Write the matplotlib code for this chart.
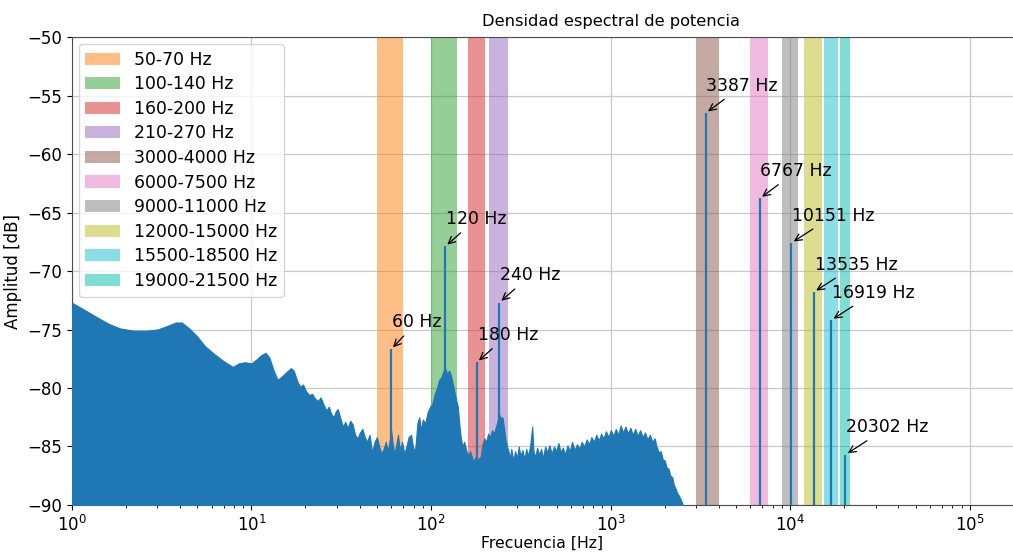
import matplotlib
matplotlib.use("Agg")
import matplotlib.pyplot as plt
from matplotlib.patches import Patch

# Power spectral density estimate (frequency in Hz, level in dB)
freq_hz = [
    1.0, 1.2, 1.4, 1.6, 1.85, 2.2, 2.6, 3.0, 3.4, 3.8, 4.1, 4.5, 5.0, 5.5, 6.1,
    7.0, 7.9, 8.5, 9.2, 10.0, 10.6, 11.3, 12.0, 12.6, 13.3, 14.0, 14.8, 15.8,
    16.6, 17.2, 18.0, 18.7, 19.4, 20.2, 21.0, 21.8, 22.6, 23.5, 24.3, 25.2,
    26.1, 27.0, 27.8, 28.7, 29.5, 30.3, 31.3, 32.3, 33.3, 34.4, 35.5, 36.6,
    37.8, 39.0, 40.2, 41.5, 42.8, 44.0, 45.5, 47.0, 48.5, 50.0, 51.5, 53.0,
    54.5, 56.0, 57.5, 59.0, 60.0, 61.0, 62.5, 64.0, 65.5, 67.0, 69.0, 71.0,
    73.0, 75.0, 77.5, 80.0, 82.0, 84.0, 86.0, 88.0, 90.0, 93.0, 96.0, 99.0,
    102, 105, 108, 111, 114, 117, 120, 123, 126, 129, 132, 135, 138, 141, 144,
    147, 150, 153, 157, 161, 165, 169, 173, 177, 181, 185, 189, 193, 198, 203,
    208, 213, 219, 224, 230, 235, 240, 246, 250, 255, 260, 265, 270, 275, 280,
    287, 294, 301, 308, 315, 323, 331, 339, 347, 356, 366, 372, 380, 390, 400,
    410, 420, 432, 444, 456, 470, 484, 498, 512, 527, 542, 558, 575, 592, 610,
    630, 650, 670, 690, 712, 735, 758, 782, 806, 832, 858, 885, 913, 942, 972,
    1003, 1035, 1068, 1102, 1137, 1173, 1210, 1248, 1288, 1329, 1371, 1415,
    1460, 1506, 1554, 1603, 1654, 1707, 1760, 1800, 1850, 1900, 1950, 2000,
    2050, 2100, 2150, 2200, 2250, 2300, 2350, 2400, 2450, 2500, 2550, 2600,
]
level_db = [
    -72.7, -73.4, -74.0, -74.5, -74.9, -75.1, -75.1, -75.0, -74.7, -74.4, -74.4,
    -74.9, -75.6, -76.4, -77.0, -77.7, -78.2, -77.9, -77.8, -77.9, -77.6, -77.2,
    -77.0, -77.4, -78.5, -79.3, -79.0, -78.6, -78.3, -78.5, -79.4, -79.9, -79.7,
    -80.3, -80.6, -80.5, -80.9, -81.1, -80.8, -81.4, -81.9, -81.6, -82.2, -82.5,
    -82.0, -81.8, -82.6, -83.3, -82.9, -83.4, -82.8, -83.1, -84.0, -84.3, -83.8,
    -83.5, -84.2, -84.6, -84.0, -85.5, -84.6, -84.2, -85.0, -85.6, -85.2, -84.6,
    -85.4, -84.4, -83.6, -84.6, -85.6, -84.9, -84.0, -85.3, -84.6, -85.6, -85.0,
    -84.2, -84.0, -85.4, -85.0, -83.0, -82.5, -83.6, -82.7, -83.0, -82.0, -81.6,
    -81.3, -80.5, -80.0, -79.3, -79.1, -78.6, -78.3, -78.8, -78.5, -78.9, -79.6,
    -80.3, -81.0, -81.6, -83.2, -84.4, -85.0, -84.6, -85.3, -85.8, -85.4, -85.9,
    -86.3, -85.9, -86.2, -86.0, -85.9, -84.9, -84.3, -84.6, -83.9, -84.2, -83.6,
    -83.9, -83.3, -82.8, -82.3, -82.6, -82.5, -83.4, -84.4, -85.0, -85.4, -86.0,
    -85.2, -86.2, -85.4, -86.0, -85.0, -85.8, -85.3, -86.1, -85.2, -85.8, -85.0,
    -83.3, -85.4, -85.9, -85.1, -85.7, -85.2, -86.0, -85.0, -85.5, -84.9, -85.6,
    -85.0, -85.4, -84.7, -85.5, -85.1, -85.7, -84.9, -85.4, -84.6, -85.3, -84.8,
    -85.2, -84.6, -85.0, -84.4, -84.8, -84.2, -84.6, -84.0, -84.5, -83.9, -84.3,
    -83.7, -84.2, -83.6, -84.1, -83.5, -84.0, -83.2, -83.8, -83.3, -83.9, -83.4,
    -84.0, -83.5, -84.1, -83.6, -84.2, -83.8, -84.4, -84.0, -84.6, -84.3, -85.0,
    -85.5, -85.4, -86.1, -86.2, -86.8, -86.9, -87.5, -87.6, -88.3, -88.6, -89.0,
    -89.2, -89.5, -89.8, -90.5, -95.0,
]

# Harmonic peaks that are labelled on the chart
peak_hz = [60, 120, 180, 240, 3387, 6767, 10151, 13535, 16919, 20302]
peak_db = [-76.7, -67.9, -77.8, -72.7, -56.5, -63.8, -67.6, -71.8, -74.2, -85.7]

# Frequency bands highlighted behind the spectrum
band_lo = [50, 100, 160, 210, 3000, 6000, 9000, 12000, 15500, 19000]
band_hi = [70, 140, 200, 270, 4000, 7500, 11000, 15000, 18500, 21500]
band_colors = ["tab:orange", "tab:green", "tab:red", "tab:purple", "tab:brown",
               "tab:pink", "tab:gray", "tab:olive", "tab:cyan", "#00bea8"]

fig = plt.figure(figsize=(10.13, 5.55), dpi=100)
ax = fig.add_axes([0.0708, 0.0901, 0.9292, 0.8432])

spec_color = "#1f77b4"
ax.fill_between(freq_hz, level_db, -100, color=spec_color, lw=0.8,
                edgecolor=spec_color, zorder=3)
ax.vlines(peak_hz, -100, peak_db, color=spec_color, lw=1.6, zorder=3)

handles = []
for lo, hi, c in zip(band_lo, band_hi, band_colors):
    ax.axvspan(lo, hi, color=c, alpha=0.5, lw=0, zorder=2)
    handles.append(Patch(facecolor=c, alpha=0.5, label=f"{lo}-{hi} Hz"))

for f, db in zip(peak_hz, peak_db):
    ax.annotate(f"{f} Hz", xy=(f, db), xytext=(0.5, 16),
                textcoords="offset points", fontsize=12.4,
                arrowprops=dict(arrowstyle="->", color="black", lw=0.9),
                zorder=5)

ax.set_xscale("log")
ax.set_xlim(1, 10 ** 5.24)
ax.set_ylim(-90, -50)
ax.set_yticks(range(-90, -49, 5))
ax.grid(True, which="major", color="#c8c8c8", lw=0.9, zorder=0)
ax.set_axisbelow(True)
ax.tick_params(labelsize=12)
for s in ax.spines.values():
    s.set_color("0.3")
ax.spines["right"].set_visible(False)

ax.set_title("Densidad espectral de potencia", fontsize=11.7, x=0.573, pad=8)
ax.set_xlabel("Frecuencia [Hz]", fontsize=11.3, labelpad=1)
ax.set_ylabel("Amplitud [dB]", fontsize=12)
ax.legend(handles=handles, loc="upper left", fontsize=12.4, framealpha=0.8,
          labelspacing=0.38, borderaxespad=0.4)

fig.savefig("out.png", dpi=100)
